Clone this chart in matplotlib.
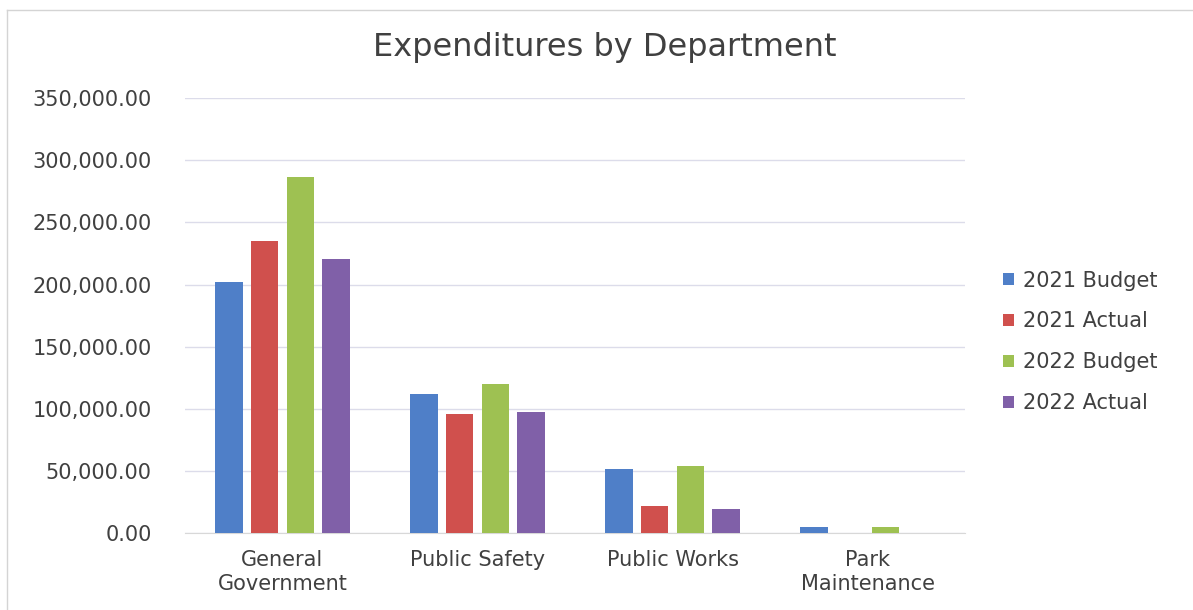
import numpy as np
import matplotlib.pyplot as plt
from matplotlib.lines import Line2D
from matplotlib.ticker import FuncFormatter, MultipleLocator

plt.rcParams['font.family'] = ['DejaVu Sans']

categories = ["General\nGovernment", "Public Safety", "Public Works", "Park\nMaintenance"]
series_names = ["2021 Budget", "2021 Actual", "2022 Budget", "2022 Actual"]
budget_2021 = [202000, 112000, 51500, 5000]
actual_2021 = [235000, 95500, 22000, 0]
budget_2022 = [286500, 120000, 54000, 4800]
actual_2022 = [220500, 97500, 19500, 0]
colors = ["#4F7FC8", "#D0504D", "#9EC152", "#8060A8"]

series = [budget_2021, actual_2021, budget_2022, actual_2022]
text_color = '#404040'

fig = plt.figure(figsize=(11.93, 6.10), dpi=100)
ax = fig.add_axes([0.155, 0.126, 0.654, 0.713])

x = np.arange(len(categories))
step = 0.183
width = 0.14
for i, (vals, name, c) in enumerate(zip(series, series_names, colors)):
    ax.bar(x + (i - 1.5) * step, vals, width, color=c, label=name, zorder=3)

ax.set_xlim(-0.5, len(categories) - 0.5)
ax.set_ylim(0, 350000)
ax.yaxis.set_major_locator(MultipleLocator(50000))
ax.yaxis.set_major_formatter(FuncFormatter(lambda v, p: "{:,.2f}".format(v)))
ax.grid(axis='y', color='#DCDCEA', linewidth=1, zorder=0)
ax.set_xticks(x)
ax.set_xticklabels(categories, linespacing=1.25)
ax.tick_params(axis='both', length=0, labelsize=15, labelcolor=text_color)
ax.tick_params(axis='y', pad=24)
ax.tick_params(axis='x', pad=12)
for s in ['top', 'right', 'left']:
    ax.spines[s].set_visible(False)
ax.spines['bottom'].set_color('#D8D8D8')

fig.text(0.507, 0.922, "Expenditures by Department", ha='center', va='center',
         fontsize=23, color=text_color)

ax.legend(loc='center left', bbox_to_anchor=(1.025, 0.44), frameon=False,
          fontsize=15, handlelength=0.5, handleheight=0.5, handletextpad=0.45,
          labelspacing=1.0, labelcolor=text_color)

# faint frame of the chart object
fig.add_artist(Line2D([0.006, 1.0], [0.984, 0.984], transform=fig.transFigure,
                      color='#D4D4D4', linewidth=1))
fig.add_artist(Line2D([0.006, 0.006], [0.0, 0.984], transform=fig.transFigure,
                      color='#D4D4D4', linewidth=1))

fig.savefig("out.png", dpi=100)
